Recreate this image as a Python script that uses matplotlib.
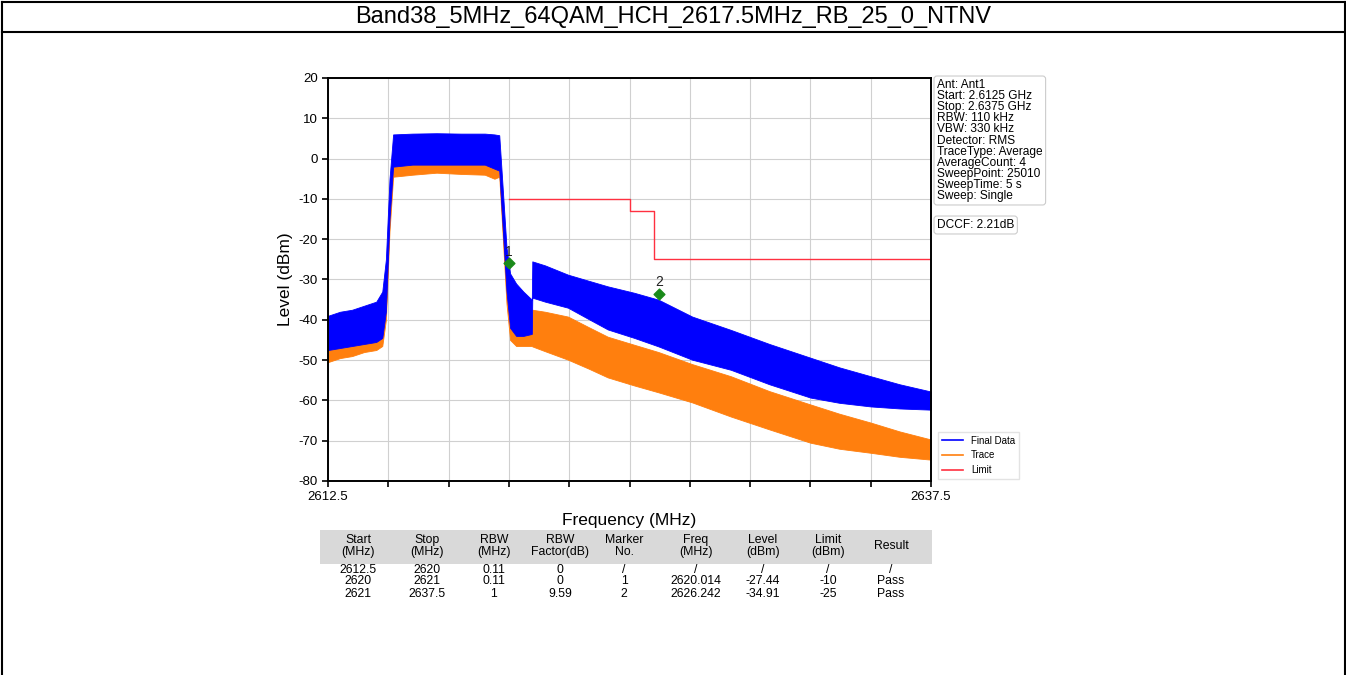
import matplotlib
matplotlib.use("Agg")
import matplotlib.pyplot as plt
from matplotlib.lines import Line2D
from matplotlib.patches import Rectangle

plt.rcParams['font.family'] = ['Liberation Sans', 'DejaVu Sans']
plt.rcParams['axes.unicode_minus'] = False

# --- donnees (enveloppes du spectre) ---
freq = [2612.5, 2613.0, 2613.5, 2614.0, 2614.5, 2614.75, 2614.9, 2615.05, 2615.2,
        2616.0, 2617.0, 2618.0, 2619.0, 2619.4, 2619.6, 2619.75, 2619.9, 2620.05,
        2620.3, 2620.6, 2620.95, 2620.97, 2621.5, 2622.45, 2623.3, 2624.1, 2625.2,
        2626.2, 2627.6, 2629.2, 2630.8, 2632.5, 2633.7, 2635.0, 2636.2, 2637.5]
final_hi = [-39, -38, -37.5, -36.5, -35.5, -33, -25, -5, 6,
            6.2, 6.3, 6.2, 6.2, 6, 5.8, -8, -22, -28.5,
            -31, -33, -35, -25.5, -26.5, -28.8, -30.3, -31.7, -33.3,
            -35, -39.2, -42.5, -46, -49.4, -51.8, -54, -56, -57.8]
final_lo = [-47.5, -47, -46.5, -46, -45.5, -44.5, -38, -15, -2,
            -1.5, -1.5, -1.5, -1.5, -2.5, -3, -18, -33, -42,
            -44, -44, -43.5, -34.5, -35.5, -37, -39.8, -42.4, -44.5,
            -46.6, -49.9, -52.4, -56, -59.3, -60.6, -61.5, -62, -62.3]
trace_hi = [-47, -46.5, -46, -45.5, -45, -44, -37, -14, -1.5,
            -1, -1, -1, -1, -2, -2.5, -17, -32, -41,
            -43, -43, -43, -37.5, -38, -39.2, -41.8, -44.2, -46.2,
            -48, -51, -54, -57.7, -61, -63.3, -65.5, -67.7, -69.7]
trace_lo = [-50.5, -49.5, -49, -48, -47.5, -46.5, -40, -18, -4.5,
            -4, -3.5, -3.8, -4, -5, -4.5, -20, -36, -45,
            -46.5, -46.5, -46.5, -46.6, -47.8, -49.9, -52.1, -54.3, -56.3,
            -58, -60.5, -64, -67.2, -70.5, -72, -73, -74, -74.7]

limit_freq = [2620, 2625, 2626, 2637.5]
limit_level = [-10, -13, -25, -25]

marker_no = ['1', '2']
marker_freq = [2620.014, 2626.242]
marker_level = [-26.0, -33.5]

info_lines = ["Ant: Ant1", "Start: 2.6125 GHz", "Stop: 2.6375 GHz", "RBW: 110 kHz",
              "VBW: 330 kHz", "Detector: RMS", "TraceType: Average", "AverageCount: 4",
              "SweepPoint: 25010", "SweepTime: 5 s", "Sweep: Single"]
dccf_text = "DCCF: 2.21dB"

table_header = ["Start\n(MHz)", "Stop\n(MHz)", "RBW\n(MHz)", "RBW\nFactor(dB)", "Marker\nNo.",
                "Freq\n(MHz)", "Level\n(dBm)", "Limit\n(dBm)", "Result"]
table_rows = [["2612.5", "2620", "0.11", "0", "/", "/", "/", "/", "/"],
              ["2620", "2621", "0.11", "0", "1", "2620.014", "-27.44", "-10", "Pass"],
              ["2621", "2637.5", "1", "9.59", "2", "2626.242", "-34.91", "-25", "Pass"]]

title = "Band38_5MHz_64QAM_HCH_2617.5MHz_RB_25_0_NTNV"

W, H = 1346, 675
fig = plt.figure(figsize=(W / 100, H / 100), dpi=100)

def fx(px):
    return px / W

def fy(py):
    return 1 - py / H

# cadre exterieur + titre
fig.add_artist(Line2D([fx(1.5), fx(1.5)], [0, fy(1.5)], color='black', lw=1.5))
fig.add_artist(Line2D([fx(1344.5), fx(1344.5)], [0, fy(1.5)], color='black', lw=1.5))
fig.add_artist(Line2D([fx(1.5), fx(1344.5)], [fy(1.5), fy(1.5)], color='black', lw=1.5))
fig.add_artist(Line2D([fx(1.5), fx(1344.5)], [fy(32), fy(32)], color='black', lw=1.5))
fig.text(0.5, fy(17), title, ha='center', va='center', fontsize=17)

ax = fig.add_axes([fx(328), fy(481), fx(931) - fx(328), fy(78) - fy(481)])

ax.fill_between(freq, trace_lo, trace_hi, color='#ff7f0e', lw=0.6)
ax.fill_between(freq, final_lo, final_hi, color='#0000ff', lw=0.6)
ax.plot(limit_freq, limit_level, drawstyle='steps-post', color='#ff3040', lw=1)
ax.scatter(marker_freq, marker_level, marker='D', s=30, color='#1a8a1a', zorder=5)
for n, f, l in zip(marker_no, marker_freq, marker_level):
    ax.text(f, l + 1.2, n, ha='center', va='bottom', fontsize=10, color='#222222')

ax.set_xlim(2612.5, 2637.5)
ax.set_ylim(-80, 20)
xt = [2612.5 + 2.5 * i for i in range(11)]
ax.set_xticks(xt)
ax.set_xticklabels(['2612.5'] + [''] * 9 + ['2637.5'])
ax.set_yticks(range(-80, 21, 10))
ax.tick_params(labelsize=9.5, width=1.2, length=4)
ax.grid(True, color='#d0d0d0', lw=0.8)
ax.set_axisbelow(True)
for s in ax.spines.values():
    s.set_linewidth(1.4)
ax.set_ylabel("Level (dBm)", fontsize=12.5)
fig.text(fx(629), fy(520), "Frequency (MHz)", ha='center', va='center', fontsize=12.5)

# boite d'infos
fig.text(fx(937), fy(79), "\n".join(info_lines), ha='left', va='top', fontsize=8.6,
         linespacing=0.9,
         bbox=dict(boxstyle='round,pad=0.25', fc='white', ec='#cccccc', lw=0.8))
fig.text(fx(937), fy(225), dccf_text, ha='left', va='center', fontsize=8.6,
         bbox=dict(boxstyle='round,pad=0.25', fc='white', ec='#cccccc', lw=0.8))

handles = [Line2D([], [], color='#0000ff', lw=1.2),
           Line2D([], [], color='#ff7f0e', lw=1.2),
           Line2D([], [], color='#ff3040', lw=1.2)]
fig.legend(handles, ["Final Data", "Trace", "Limit"], loc='lower left',
           bbox_to_anchor=(fx(933), fy(484)), fontsize=7, frameon=True,
           edgecolor='#dddddd', fancybox=False, handlelength=2.2, labelspacing=0.5)

# tableau
col_x = [358, 427, 494, 560, 624, 696, 763, 828, 891]
fig.add_artist(Rectangle((fx(320), fy(564)), fx(932) - fx(320), fy(530) - fy(564),
                         transform=fig.transFigure, fc='#d9d9d9', ec='none'))
for cx, h in zip(col_x, table_header):
    fig.text(fx(cx), fy(546), h, ha='center', va='center', fontsize=8.8, linespacing=0.92)
row_y = [570, 581, 594]
for ry, row in zip(row_y, table_rows):
    for cx, v in zip(col_x, row):
        fig.text(fx(cx), fy(ry), v, ha='center', va='center', fontsize=8.8)

fig.savefig("out.png", dpi=100)
